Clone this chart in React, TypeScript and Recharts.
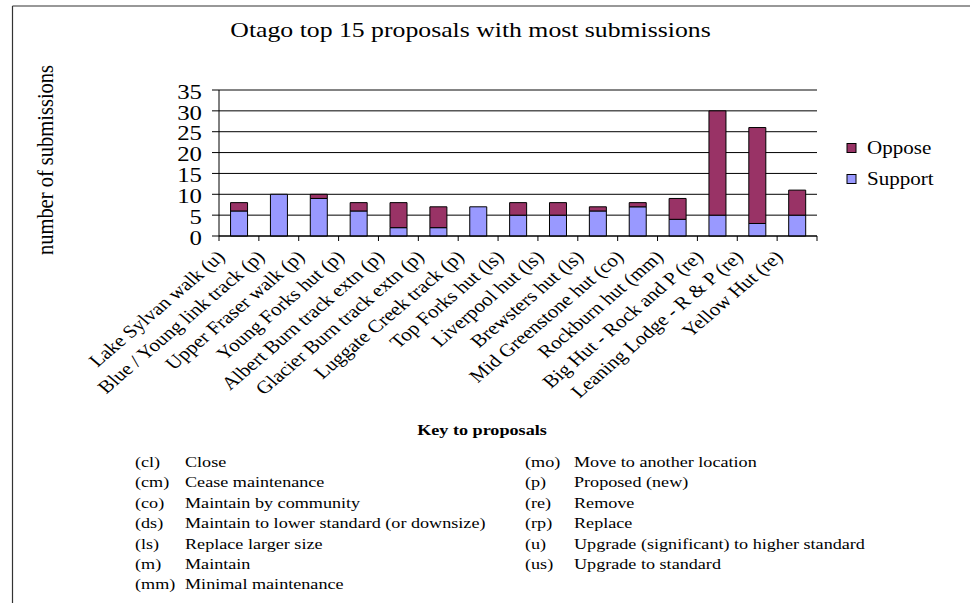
import React from "react";
import {
  BarChart,
  Bar,
  XAxis,
  YAxis,
  CartesianGrid,
  ReferenceLine,
  Legend,
} from "recharts";

const categories = [
  "Lake Sylvan walk (u)",
  "Blue / Young link track (p)",
  "Upper Fraser walk (p)",
  "Young Forks hut (p)",
  "Albert Burn track extn (p)",
  "Glacier Burn track extn (p)",
  "Luggate Creek track (p)",
  "Top Forks hut (ls)",
  "Liverpool hut (ls)",
  "Brewsters hut (ls)",
  "Mid Greenstone hut (co)",
  "Rockburn hut (mm)",
  "Big Hut - Rock and P (re)",
  "Leaning Lodge - R & P (re)",
  "Yellow Hut (re)",
];
const supportValues = [6, 10, 9, 6, 2, 2, 7, 5, 5, 6, 7, 4, 5, 3, 5];
const opposeValues = [2, 0, 1, 2, 6, 5, 0, 3, 3, 1, 1, 5, 25, 23, 6];
const yTicks = [0, 5, 10, 15, 20, 25, 30, 35];
const legendOrder = ["Oppose", "Support"];

const titleText = "Otago top 15 proposals with most submissions";
const yLabelText = "number of submissions";
const keyTitle = "Key to proposals";
const keyCodesLeft = ["(cl)", "(cm)", "(co)", "(ds)", "(ls)", "(m)", "(mm)"];
const keyDescLeft = [
  "Close",
  "Cease maintenance",
  "Maintain by community",
  "Maintain to lower standard (or downsize)",
  "Replace larger size",
  "Maintain",
  "Minimal maintenance",
];
const keyCodesRight = ["(mo)", "(p)", "(re)", "(rp)", "(u)", "(us)"];
const keyDescRight = [
  "Move to another location",
  "Proposed (new)",
  "Remove",
  "Replace",
  "Upgrade (significant) to higher standard",
  "Upgrade to standard",
];

const data = categories.map((name, i) => ({
  name,
  Support: supportValues[i],
  Oppose: opposeValues[i],
}));

const FONT = '"Liberation Serif", "Times New Roman", serif';
const SX = 1.17;
const W = 970;
const H = 603;
const PLOT_LEFT = 219;
const PLOT_RIGHT = 817;
const PLOT_TOP = 90;
const PLOT_BOTTOM = 236;
const Y_AXIS_W = 60;
const X_AXIS_H = 160;
const BAND = (PLOT_RIGHT - PLOT_LEFT) / categories.length;

const YTick = (props: any) => {
  const { x, y, payload } = props;
  return (
    <text
      transform={`translate(${x},${y}) scale(1.34,1.12)`}
      textAnchor="end"
      dy="0.42em"
      fontSize={18.5}
      style={{ fontFamily: FONT }}
      fill="#000"
    >
      {payload.value}
    </text>
  );
};

const XTick = (props: any) => {
  const { x, y, payload, index } = props;
  const half = payload && payload.offset ? payload.offset : BAND / 2;
  return (
    <g>
      <line x1={x - half} x2={x - half} y1={y} y2={y + 5} stroke="#000" strokeWidth={1} />
      {index === categories.length - 1 && (
        <line x1={x + half} x2={x + half} y1={y} y2={y + 5} stroke="#000" strokeWidth={1} />
      )}
      <text
        transform={`translate(${x - 13},${y + 22}) scale(${SX},1) rotate(-45)`}
        textAnchor="end"
        fontSize={18}
        style={{ fontFamily: FONT }}
        fill="#000"
      >
        {payload.value}
      </text>
    </g>
  );
};

const LegendContent = (props: any) => {
  const items = [...(props.payload || [])].sort(
    (a: any, b: any) => legendOrder.indexOf(a.value) - legendOrder.indexOf(b.value)
  );
  return (
    <svg width={130} height={66} style={{ display: "block" }}>
      {items.map((it: any, i: number) => {
        const cy = 18 + i * 31;
        return (
          <g key={it.value}>
            <rect x={7} y={cy - 4.5} width={9} height={9} fill={it.color} stroke="#000" strokeWidth={1} />
            <text
              transform={`translate(27,${cy}) scale(${SX},1)`}
              dy="0.35em"
              fontSize={18}
              style={{ fontFamily: FONT }}
              fill="#000"
            >
              {it.value}
            </text>
          </g>
        );
      })}
    </svg>
  );
};

export default function App() {
  const rowY0 = 467;
  const rowStep = 20.4;
  const textStyle = { fontFamily: FONT };
  return (
    <div style={{ position: "absolute", left: 0, top: 0, width: W, height: H, background: "#fff" }}>
      <BarChart
        width={W}
        height={H}
        data={data}
        barCategoryGap="29%"
        margin={{
          top: PLOT_TOP,
          right: W - PLOT_RIGHT,
          left: PLOT_LEFT - Y_AXIS_W,
          bottom: H - PLOT_BOTTOM - X_AXIS_H,
        }}
      >
        <CartesianGrid vertical={false} stroke="#000" strokeWidth={1} />
        <XAxis
          dataKey="name"
          type="category"
          interval={0}
          height={X_AXIS_H}
          tickLine={false}
          tickSize={0}
          tickMargin={0}
          axisLine={{ stroke: "#000", strokeWidth: 1 }}
          tick={<XTick />}
        />
        <YAxis
          type="number"
          domain={[0, 35]}
          ticks={yTicks}
          width={Y_AXIS_W}
          tickSize={7}
          tickMargin={10}
          axisLine={{ stroke: "#000", strokeWidth: 1 }}
          tickLine={{ stroke: "#000", strokeWidth: 1 }}
          tick={<YTick />}
          interval={0}
        />
        <YAxis
          yAxisId="right"
          orientation="right"
          type="number"
          domain={[0, 35]}
          width={0}
          tick={false}
          tickLine={false}
          axisLine={{ stroke: "#888", strokeWidth: 1 }}
        />
        <ReferenceLine y={35} stroke="#888" strokeWidth={1} />
        <Legend
          layout="vertical"
          align="center"
          verticalAlign="middle"
          content={<LegendContent />}
          wrapperStyle={{ left: 840, top: 130, width: 130, height: 66 }}
        />
        <Bar dataKey="Support" stackId="a" fill="#9999FF" stroke="#000" strokeWidth={1} isAnimationActive={false} />
        <Bar dataKey="Oppose" stackId="a" fill="#993366" stroke="#000" strokeWidth={1} isAnimationActive={false} />
      </BarChart>
      <svg
        width={W}
        height={H}
        style={{ position: "absolute", left: 0, top: 0, pointerEvents: "none" }}
      >
        <line x1={12.5} x2={W} y1={6} y2={6} stroke="#333" strokeWidth={1.2} />
        <line x1={12.5} x2={12.5} y1={6} y2={H} stroke="#333" strokeWidth={1.2} />
        <text
          transform={`translate(470.5,37) scale(${SX},1)`}
          textAnchor="middle"
          fontSize={22}
          style={textStyle}
          fill="#000"
        >
          {titleText}
        </text>
        <text
          transform={`translate(53,160) scale(${SX},1) rotate(-90)`}
          textAnchor="middle"
          fontSize={20.5}
          style={textStyle}
          fill="#000"
        >
          {yLabelText}
        </text>
        <text
          transform={`translate(482,435) scale(${SX},1)`}
          textAnchor="middle"
          fontSize={15.5}
          fontWeight="bold"
          style={textStyle}
          fill="#000"
        >
          {keyTitle}
        </text>
        {keyCodesLeft.map((c, i) => (
          <g key={"l" + i}>
            <text transform={`translate(135,${rowY0 + i * rowStep}) scale(${SX},1)`} fontSize={15.5} style={textStyle} fill="#000">
              {c}
            </text>
            <text transform={`translate(185,${rowY0 + i * rowStep}) scale(${SX},1)`} fontSize={15.5} style={textStyle} fill="#000">
              {keyDescLeft[i]}
            </text>
          </g>
        ))}
        {keyCodesRight.map((c, i) => (
          <g key={"r" + i}>
            <text transform={`translate(525,${rowY0 + i * rowStep}) scale(${SX},1)`} fontSize={15.5} style={textStyle} fill="#000">
              {c}
            </text>
            <text transform={`translate(574,${rowY0 + i * rowStep}) scale(${SX},1)`} fontSize={15.5} style={textStyle} fill="#000">
              {keyDescRight[i]}
            </text>
          </g>
        ))}
      </svg>
    </div>
  );
}
